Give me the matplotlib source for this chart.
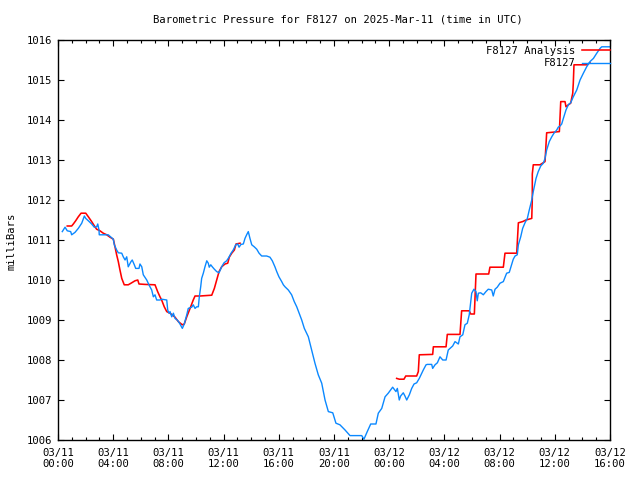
import numpy as np
import matplotlib
matplotlib.use("Agg")
import matplotlib.pyplot as plt

plt.rcParams['font.family'] = ['DejaVu Sans Mono', 'DejaVu Sans']

# ---- data (hours since 2025-03-11 00:00 UTC, pressure in mbar) ----
obs_hours = [0.31, 0.51, 0.67, 0.92, 0.99, 1.23, 1.47, 1.72, 1.91, 2.01, 2.20, 2.44, 2.63, 2.80, 2.88,
             2.97, 2.99, 3.64, 3.84, 4.01, 4.08, 4.25, 4.37, 4.62, 4.73, 4.86, 4.98, 5.09, 5.29, 5.38,
             5.53, 5.63, 5.87, 5.94, 6.07, 6.18, 6.43, 6.59, 6.79, 6.91, 7.03, 7.15, 7.39, 7.51, 7.88,
             7.95, 8.04, 8.12, 8.24, 8.36, 8.48, 8.67, 8.84, 9.01, 9.15, 9.33, 9.44, 9.69, 9.80, 9.93,
             10.05, 10.17, 10.24, 10.34, 10.41, 10.53, 10.65, 10.78, 10.89, 10.96, 11.07, 11.18, 11.33,
             11.50, 11.67, 11.86, 12.03, 12.22, 12.39, 12.54, 12.70, 12.88, 13.02, 13.12, 13.26, 13.43,
             13.55, 13.67, 13.79, 13.91, 14.04, 14.22, 14.40, 14.57, 14.76, 15.12, 15.36, 15.53, 15.72,
             15.85, 16.01, 16.21, 16.33, 16.45, 16.69, 16.93, 17.12, 17.30, 17.46, 17.66, 17.85, 18.14,
             18.38, 18.62, 18.86, 19.11, 19.35, 19.59, 19.91, 20.14, 20.43, 20.80, 21.16, 22.01, 22.17,
             22.41, 22.66, 23.04, 23.21, 23.46, 23.70, 23.93, 24.25, 24.49, 24.59, 24.73, 24.83, 25.02,
             25.14, 25.27, 25.46, 25.63, 25.80, 25.99, 26.18, 26.36, 26.47, 26.67, 26.76, 27.08, 27.15,
             27.32, 27.49, 27.68, 27.88, 28.12, 28.28, 28.41, 28.60, 28.77, 29.01, 29.13, 29.33, 29.49,
             29.66, 29.80, 29.91, 29.98, 30.14, 30.29, 30.38, 30.46, 30.63, 30.82, 31.01, 31.18, 31.43,
             31.54, 31.67, 31.83, 32.03, 32.27, 32.51, 32.70, 32.99, 33.12, 33.28, 33.36, 33.53, 33.67,
             33.84, 34.01, 34.15, 34.33, 34.44, 34.64, 34.80, 34.98, 35.17, 35.29, 35.41, 35.60, 35.78,
             35.94, 36.14, 36.25, 36.38, 36.50, 36.62, 36.81, 36.98, 37.15, 37.34, 37.59, 37.83, 38.07,
             38.31, 38.55, 38.80, 39.04, 39.28, 39.40, 40.00]
obs_mbar = [1011.21, 1011.32, 1011.23, 1011.21, 1011.13, 1011.19, 1011.29, 1011.42, 1011.60, 1011.54,
            1011.48, 1011.40, 1011.32, 1011.33, 1011.40, 1011.25, 1011.13, 1011.13, 1011.07, 1011.02,
            1010.88, 1010.75, 1010.68, 1010.67, 1010.58, 1010.50, 1010.58, 1010.33, 1010.46, 1010.50,
            1010.38, 1010.29, 1010.29, 1010.40, 1010.33, 1010.13, 1010.00, 1009.88, 1009.75, 1009.58,
            1009.63, 1009.50, 1009.50, 1009.52, 1009.50, 1009.25, 1009.17, 1009.21, 1009.08, 1009.17,
            1009.04, 1008.99, 1008.90, 1008.79, 1008.90, 1009.13, 1009.29, 1009.32, 1009.38, 1009.29,
            1009.33, 1009.33, 1009.58, 1009.83, 1010.04, 1010.17, 1010.33, 1010.48, 1010.42, 1010.32,
            1010.38, 1010.33, 1010.27, 1010.21, 1010.18, 1010.33, 1010.43, 1010.48, 1010.57, 1010.67,
            1010.75, 1010.88, 1010.90, 1010.82, 1010.89, 1010.90, 1011.04, 1011.13, 1011.21, 1011.04,
            1010.88, 1010.83, 1010.77, 1010.67, 1010.60, 1010.60, 1010.57, 1010.48, 1010.33, 1010.21,
            1010.08, 1009.96, 1009.88, 1009.83, 1009.75, 1009.63, 1009.46, 1009.33, 1009.18, 1009.00,
            1008.79, 1008.58, 1008.25, 1007.92, 1007.63, 1007.42, 1007.00, 1006.71, 1006.68, 1006.42,
            1006.38, 1006.25, 1006.11, 1006.11, 1006.02, 1006.21, 1006.40, 1006.40, 1006.67, 1006.79,
            1007.08, 1007.17, 1007.32, 1007.21, 1007.29, 1007.00, 1007.10, 1007.18, 1007.10, 1007.00,
            1007.13, 1007.29, 1007.40, 1007.43, 1007.54, 1007.67, 1007.75, 1007.88, 1007.89, 1007.89,
            1007.79, 1007.88, 1007.93, 1008.08, 1008.00, 1008.00, 1008.25, 1008.29, 1008.35, 1008.46,
            1008.40, 1008.58, 1008.63, 1008.88, 1008.92, 1009.13, 1009.46, 1009.67, 1009.77, 1009.71,
            1009.48, 1009.67, 1009.68, 1009.63, 1009.71, 1009.77, 1009.75, 1009.60, 1009.77, 1009.82,
            1009.92, 1009.96, 1010.17, 1010.19, 1010.52, 1010.60, 1010.63, 1010.88, 1011.08, 1011.29,
            1011.43, 1011.54, 1011.75, 1012.00, 1012.21, 1012.54, 1012.71, 1012.85, 1012.92, 1013.04,
            1013.25, 1013.46, 1013.58, 1013.67, 1013.75, 1013.82, 1013.85, 1013.90, 1014.04, 1014.25,
            1014.38, 1014.43, 1014.58, 1014.75, 1015.00, 1015.17, 1015.33, 1015.46, 1015.54, 1015.67,
            1015.79, 1015.83, 1015.83]

nan = float('nan')
ana_hours = [0.67, 0.99, 1.11, 1.28, 1.47, 1.67, 2.01, 2.20, 2.44, 2.68, 2.80, 3.04, 3.28, 3.53, 3.77,
             4.01, 4.13, 4.25, 4.37, 4.49, 4.62, 4.80, 5.09, 5.34, 5.58, 5.78, 5.87, 6.30, 7.03, 7.22,
             7.39, 7.51, 7.70, 7.88, 8.12, 8.48, 8.72, 9.01, 9.15, 9.33, 9.57, 9.80, 9.93, 10.29, 11.14,
             11.33, 11.50, 11.67, 11.86, 12.10, 12.30, 12.41, 12.59, 12.78, 12.90, 13.19,
             13.5,
             24.54, 24.73, 25.07, 25.20, 25.99, 26.11, 26.18, 27.15, 27.20, 28.12, 28.21, 29.13, 29.25,
             29.80, 29.91, 30.17, 30.29, 31.21, 31.30, 32.27, 32.39, 33.24, 33.36, 33.67, 33.91, 34.33,
             34.37, 34.37, 34.44, 34.93, 35.29, 35.34, 35.41, 36.33, 36.38, 36.43, 36.74, 36.81, 36.98,
             37.15, 37.30, 37.34, 37.39, 38.31, 38.55]
ana_mbar = [1011.35, 1011.35, 1011.40, 1011.48, 1011.58, 1011.67, 1011.67, 1011.58, 1011.46, 1011.33,
            1011.27, 1011.23, 1011.17, 1011.13, 1011.07, 1011.02, 1010.83, 1010.63, 1010.46, 1010.25,
            1010.04, 1009.88, 1009.88, 1009.93, 1009.98, 1010.00, 1009.90, 1009.89, 1009.88, 1009.71,
            1009.58, 1009.50, 1009.33, 1009.21, 1009.17, 1009.07, 1008.96, 1008.88, 1008.90, 1009.08,
            1009.29, 1009.50, 1009.60, 1009.60, 1009.62, 1009.79, 1010.00, 1010.21, 1010.33, 1010.40,
            1010.42, 1010.57, 1010.67, 1010.75, 1010.90, 1010.92,
            nan,
            1007.54, 1007.52, 1007.52, 1007.60, 1007.60, 1007.71, 1008.13, 1008.14, 1008.33, 1008.33,
            1008.64, 1008.64, 1009.23, 1009.23, 1009.15, 1009.15, 1010.15, 1010.15, 1010.32, 1010.32,
            1010.67, 1010.67, 1011.43, 1011.46, 1011.50, 1011.54, 1012.04, 1012.65, 1012.88, 1012.88,
            1012.96, 1013.25, 1013.68, 1013.71, 1014.08, 1014.46, 1014.46, 1014.33, 1014.38, 1014.42,
            1014.67, 1014.92, 1015.38, 1015.38, 1015.43]

x_tick_hours = list(range(0, 41, 4))
x_tick_labels = ["03/11\n00:00", "03/11\n04:00", "03/11\n08:00", "03/11\n12:00", "03/11\n16:00",
                 "03/11\n20:00", "03/12\n00:00", "03/12\n04:00", "03/12\n08:00", "03/12\n12:00",
                 "03/12\n16:00"]
y_ticks = list(range(1006, 1017))

FS = 7.6
fig = plt.figure(figsize=(6.4, 4.8), dpi=100)
ax = fig.add_axes([58/640, 40/480, 552/640, 400/480])

ax.plot(ana_hours, ana_mbar, color='#ff0000', lw=1.15, label='F8127 Analysis')
ax.plot(obs_hours, obs_mbar, color='#0a88ff', lw=1.0, label='F8127')

ax.set_xlim(0, 40)
ax.set_ylim(1006, 1016)
ax.set_xticks(x_tick_hours)
ax.set_xticklabels(x_tick_labels)
ax.set_xticks(range(0, 41), minor=True)
ax.set_yticks(y_ticks)
ax.set_yticklabels([str(v) for v in y_ticks])

ax.tick_params(which='major', direction='in', top=True, right=True, length=4, width=0.8,
               labelsize=FS, colors='black')
ax.tick_params(axis='x', which='major', pad=5.5)
ax.tick_params(axis='y', which='major', pad=4.5)
ax.tick_params(which='minor', direction='in', top=True, right=True, length=2.3, width=0.8)
for s in ax.spines.values():
    s.set_linewidth(1.0)
    s.set_color('black')

fig.text(338/640, 1 - 20/480, 'Barometric Pressure for F8127 on 2025-Mar-11 (time in UTC)',
         ha='center', va='center', fontsize=FS)
fig.text(12/640, 1 - 241/480, 'milliBars', rotation=90, ha='center', va='center', fontsize=FS)

leg = ax.legend(loc='upper right', bbox_to_anchor=(1 + 3/552, 1 - 2.5/400), frameon=False,
                markerfirst=False, fontsize=FS, handlelength=2.65, handletextpad=0.6,
                labelspacing=0.25, borderpad=0.3, borderaxespad=0)

fig.savefig('out.png', dpi=100)
